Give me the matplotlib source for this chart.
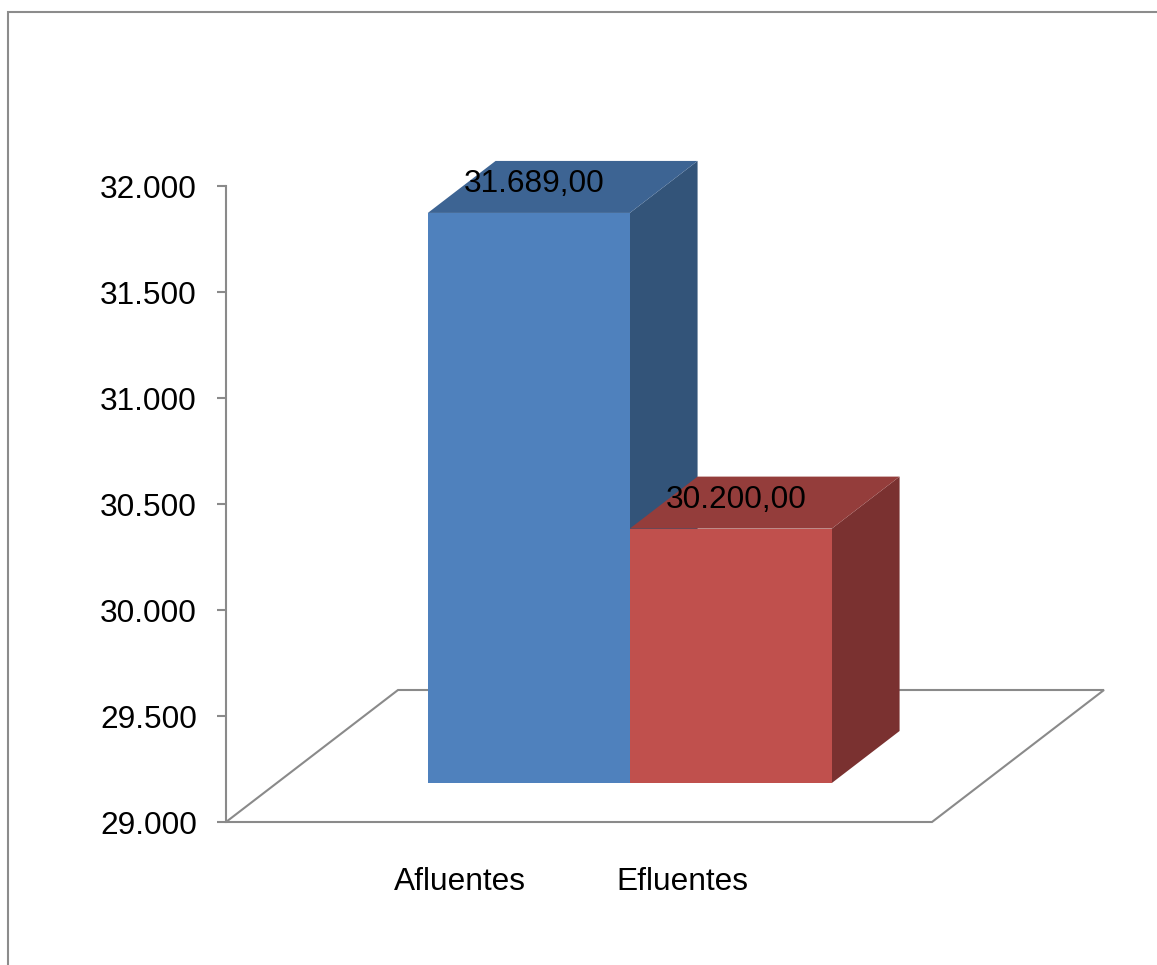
import matplotlib
matplotlib.use("Agg")
import matplotlib.pyplot as plt
from matplotlib.patches import Polygon, Rectangle
from matplotlib.ticker import FuncFormatter

plt.rcParams['font.family'] = ['Liberation Sans', 'DejaVu Sans']

# Data
categories = ["Afluentes", "Efluentes"]
values = [31689.00, 30200.00]
value_labels = ["31.689,00", "30.200,00"]
y_ticks = [29000, 29500, 30000, 30500, 31000, 31500, 32000]

# Styling
front_colors = ["#4F81BD", "#C0504D"]
top_colors = ["#3D6493", "#943D3B"]
side_colors = ["#335479", "#7A3130"]
line_gray = "#8A8A8A"
FS = 22.8

W, H = 1157, 965
fig = plt.figure(figsize=(W / 100, H / 100), dpi=100)

# Chart-area border
fig.patches.append(Rectangle((8 / W, -0.05), 1.2, 1.05 - 12 / H,
                             transform=fig.transFigure, fill=False,
                             edgecolor="#8C8C8C", linewidth=1.5))

ax = fig.add_axes([226 / W, 1 - 822 / H, (932 - 226) / W, (822 - 186) / H])
y0, y1 = 29000, 32000
ax.set_xlim(0, 1)
ax.set_ylim(y0, y1)

# Oblique depth vector of the floor, in data units
DX = 172 / 706
DY = 132 / 106 * 500
f_front, f_back = 39 / 132, 91 / 132

# Floor outline
floor = Polygon([(0, y0), (1, y0), (1 + DX, y0 + DY), (DX, y0 + DY)],
                closed=True, fill=False, edgecolor=line_gray, linewidth=1.5,
                clip_on=False, zorder=1)
ax.add_patch(floor)

# 3D columns, side by side around the centre of the floor
bar_w = 202 / 706
lefts = [0.5 - bar_w, 0.5]
for i, v in enumerate(values):
    xl = lefts[i] + f_front * DX
    xr = xl + bar_w
    yb = y0 + f_front * DY
    yt = v + f_front * DY
    ddx = (f_back - f_front) * DX
    ddy = (f_back - f_front) * DY
    front = Polygon([(xl, yb), (xr, yb), (xr, yt), (xl, yt)], closed=True,
                    facecolor=front_colors[i], edgecolor="none",
                    clip_on=False, zorder=2 + i)
    top = Polygon([(xl, yt), (xr, yt), (xr + ddx, yt + ddy), (xl + ddx, yt + ddy)],
                  closed=True, facecolor=top_colors[i], edgecolor="none",
                  clip_on=False, zorder=2 + i)
    side = Polygon([(xr, yb), (xr + ddx, yb + ddy), (xr + ddx, yt + ddy), (xr, yt)],
                   closed=True, facecolor=side_colors[i], edgecolor="none",
                   clip_on=False, zorder=2 + i)
    for p in (side, front, top):
        ax.add_patch(p)
    # value label on the top face
    ax.text(xl + bar_w / 2 + 5 / 706, v + (f_front + f_back) / 2 * DY + 3 / 106 * 500,
            value_labels[i], ha="center", va="center", fontsize=FS,
            color="black", clip_on=False, zorder=10)

# Category labels below the floor
label_x = [(459.5 - 226) / 706, (682.5 - 226) / 706]
for x, name in zip(label_x, categories):
    ax.text(x, y0 - 60 / 106 * 500, name, ha="center", va="center",
            fontsize=FS, color="black", clip_on=False)

# Axes styling
for s in ("top", "right", "bottom"):
    ax.spines[s].set_visible(False)
ax.spines["left"].set_color(line_gray)
ax.spines["left"].set_linewidth(1.5)
ax.set_xticks([])
ax.set_yticks(y_ticks)
ax.yaxis.set_major_formatter(FuncFormatter(lambda v, p: f"{int(v):,}".replace(",", ".")))
ax.tick_params(axis="y", length=6.5, width=1.5, color=line_gray, pad=14.4,
               labelsize=FS, labelcolor="black")
ax.patch.set_visible(False)

fig.savefig("out.png", dpi=100)
